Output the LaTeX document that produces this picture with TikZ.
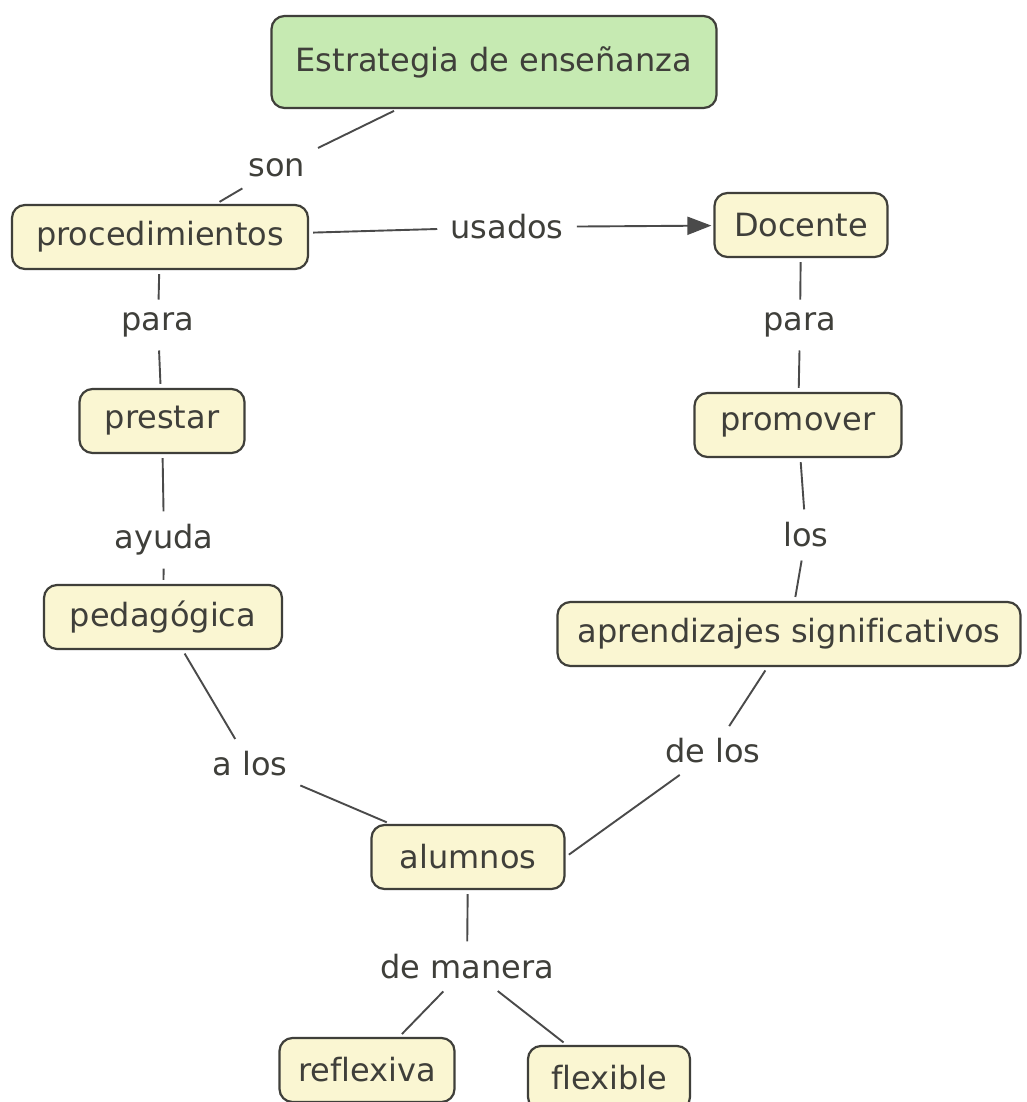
\documentclass[tikz,border=0pt]{standalone}
\usepackage{fontspec}
\setmainfont[Ligatures=NoCommon]{DejaVu Sans}
\usetikzlibrary{arrows.meta}
\definecolor{inkgray}{HTML}{3F3F3A}
\definecolor{linegray}{HTML}{4A4A4A}
\definecolor{cream}{HTML}{FAF6D2}
\definecolor{mint}{HTML}{C6EAB2}
\tikzset{
  concept/.style={draw=inkgray, line width=2.2pt, rounded corners=13pt, fill=cream,
    text=inkgray, font=\fontsize{32}{38}\selectfont, inner xsep=16pt, minimum height=64pt},
  rootconcept/.style={concept, fill=mint, minimum height=92pt},
  linkword/.style={text=inkgray, font=\fontsize{32}{38}\selectfont, inner sep=9pt},
  link/.style={draw=linegray, line width=1.9pt, shorten <=4pt, shorten >=4pt},
}
\begin{document}
\begin{tikzpicture}[x=1pt, y=-1pt]
\useasboundingbox[fill=white] (0,0) rectangle (1026,1102);

% concepts
\node[rootconcept, minimum width=445pt] (estr) at (494,62) {Estrategia de enseñanza};
\node[concept, minimum width=296pt] (proc) at (160,237) {procedimientos};
\node[concept, minimum width=173pt] (doc) at (801,225) {Docente};
\node[concept, minimum width=165pt] (prest) at (162,421) {prestar};
\node[concept, minimum width=238pt] (ped) at (163,617) {pedagógica};
\node[concept, minimum width=207pt] (prom) at (798,425) {promover};
\node[concept, minimum width=463pt] (apr) at (789,634) {aprendizajes significativos};
\node[concept, minimum width=193pt] (alum) at (468,857) {alumnos};
\node[concept, minimum width=175pt] (refl) at (367,1070) {reflexiva};
\node[concept, minimum width=162pt] (flex) at (609,1078) {flexible};

% linking words
\node[linkword] (son) at (277,168) {son};
\node[linkword] (usados) at (507,227) {usados};
\node[linkword] (paraL) at (158,325) {para};
\node[linkword] (ayuda) at (164,540) {ayuda};
\node[linkword] (paraR) at (800,325) {para};
\node[linkword] (los) at (806,535) {los};
\node[linkword] (alos) at (250,764) {a los};
\node[linkword] (delos) at (713,751) {de los};
\node[linkword] (deman) at (467,967) {de manera};

% connectors
\draw[link] (estr) -- (son);
\draw[link] (son) -- (proc);
\draw[link] (proc) -- (usados);
\draw[link, shorten >=2pt, -{Triangle[length=24pt,width=18pt]}] (usados) -- (doc);
\draw[link] (proc) -- (paraL);
\draw[link] (paraL) -- (prest);
\draw[link] (prest) -- (ayuda);
\draw[link] (ayuda) -- (ped);
\draw[link] (doc) -- (paraR);
\draw[link] (paraR) -- (prom);
\draw[link] (prom) -- (los);
\draw[link] (los) -- (apr);
\draw[link] (ped) -- (alos);
\draw[link] (alos) -- (alum);
\draw[link] (apr) -- (delos);
\draw[link] (delos) -- (alum.east);
\draw[link] (alum) -- (deman);
\draw[link] (deman) -- (refl);
\draw[link] (deman) -- (flex);
\end{tikzpicture}
\end{document}
